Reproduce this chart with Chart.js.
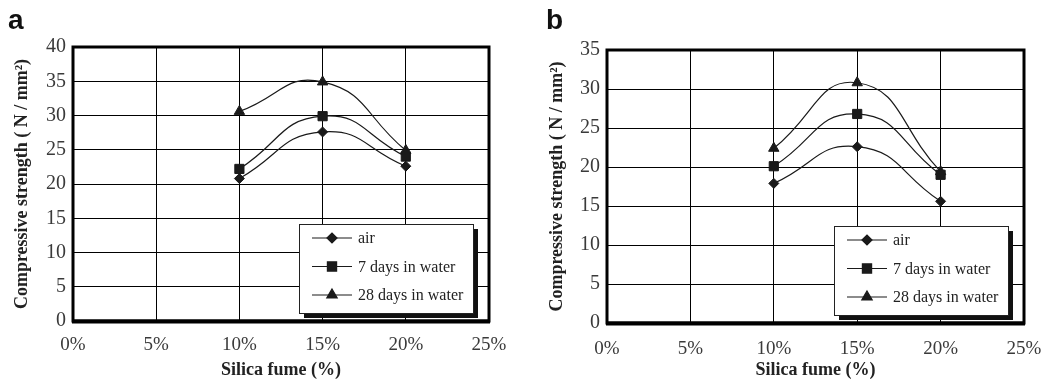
<!DOCTYPE html>
<html>
<head>
<meta charset="utf-8">
<script src="https://cdn.jsdelivr.net/npm/chart.js@4/dist/chart.umd.min.js"></script>
<style>
  html, body { margin: 0; padding: 0; background: #fff; }
  #wrap { position: relative; width: 1043px; height: 381px; overflow: hidden; }
  .panel { position: absolute; top: 0; height: 381px; }
  .tag { position: absolute; top: 4px; font: bold 28px "Liberation Sans", Arial, sans-serif; color: #111; }
</style>
</head>
<body>
<div id="wrap">
  <div class="panel" style="left:0;width:520px;"><canvas id="chartA" width="520" height="381"></canvas></div>
  <div class="panel" style="left:520px;width:523px;"><canvas id="chartB" width="523" height="381"></canvas></div>
  <div class="tag" style="left:8px;">a</div>
  <div class="tag" style="left:546px;">b</div>
</div>
<script>
// Silica fume content (%) at which strength was measured
const silicaFume = [10, 15, 20];
const seriesLabels = ['air', '7 days in water', '28 days in water'];
const pointStyles = ['rectRot', 'rect', 'triangle'];
const pointRadii = [5, 6.5, 6];

// Panel a
const airA = [20.8, 27.6, 22.6];
const water7A = [22.2, 29.9, 24.0];
const water28A = [30.6, 34.9, 24.9];

// Panel b
const airB = [17.9, 22.6, 15.6];
const water7B = [20.1, 26.8, 19.0];
const water28B = [22.4, 30.8, 19.4];

const ink = '#1a1a1a';
const serif = '"Liberation Serif", "Times New Roman", serif';

// Thick black frame around the plot area
const framePlugin = {
    id: 'frame',
    beforeDatasetsDraw(chart) {
        const { ctx, chartArea: a } = chart;
        ctx.save();
        ctx.strokeStyle = '#000';
        ctx.lineWidth = 3;
        ctx.strokeRect(a.left, a.top, a.right - a.left, a.bottom - a.top);
        ctx.lineWidth = 4;
        ctx.beginPath();
        ctx.moveTo(a.left - 1, a.bottom + 0.5);
        ctx.lineTo(a.right + 1, a.bottom + 0.5);
        ctx.stroke();
        ctx.restore();
    }
};

// Boxed legend with drop shadow in the lower right of the plot
const legendPlugin = {
    id: 'boxLegend',
    afterDatasetsDraw(chart) {
        const { ctx, chartArea: a } = chart;
        const w = 174, h = 89;
        const x = a.right - 16 - w;
        const y = a.bottom - 8 - h;
        ctx.save();
        ctx.fillStyle = '#111';
        ctx.fillRect(x + 5, y + 5, w, h);
        ctx.fillStyle = '#fff';
        ctx.fillRect(x, y, w, h);
        ctx.strokeStyle = '#222';
        ctx.lineWidth = 1;
        ctx.strokeRect(x + 0.5, y + 0.5, w, h);
        chart.data.datasets.forEach((ds, i) => {
            const ry = y + 14 + i * 28.5;
            ctx.strokeStyle = ink;
            ctx.lineWidth = 1.2;
            ctx.beginPath();
            ctx.moveTo(x + 13, ry);
            ctx.lineTo(x + 53, ry);
            ctx.stroke();
            ctx.fillStyle = ink;
            Chart.helpers.drawPoint(ctx, {
                pointStyle: ds.pointStyle,
                radius: ds.pointRadius,
                borderWidth: 1
            }, x + 33, ry);
            ctx.fillStyle = '#222';
            ctx.font = '16px ' + serif;
            ctx.textBaseline = 'middle';
            ctx.fillText(ds.label, x + 59, ry + 1);
        });
        ctx.restore();
    }
};

function makeChart(id, series, yMax, opts) {
    const datasets = series.map((vals, i) => ({
        label: seriesLabels[i],
        data: silicaFume.map((s, k) => ({ x: s, y: vals[k] })),
        borderColor: ink,
        backgroundColor: ink,
        borderWidth: 1.2,
        pointStyle: pointStyles[i],
        pointRadius: pointRadii[i],
        pointBorderWidth: 1,
        tension: 0.5
    }));

    return new Chart(document.getElementById(id), {
        type: 'line',
        data: { datasets },
        options: {
            responsive: false,
            animation: false,
            layout: { padding: { left: 0, right: opts.padRight, top: opts.padTop, bottom: 0 } },
            plugins: { legend: { display: false }, tooltip: { enabled: false } },
            scales: {
                x: {
                    type: 'linear',
                    min: 0, max: 25,
                    ticks: {
                        stepSize: 5,
                        padding: opts.xTickPad,
                        color: '#3a3a3a',
                        font: { family: serif, size: 19 },
                        callback: v => v + '%'
                    },
                    grid: { color: '#000', lineWidth: 1, drawTicks: false },
                    border: { display: false },
                    title: {
                        display: true,
                        text: 'Silica fume (%)',
                        color: '#222',
                        font: { family: serif, size: 18, weight: 'bold' },
                        padding: { top: 0, bottom: 0 }
                    },
                    afterFit: s => {
                        s.height = opts.xHeight;
                        s.paddingLeft = 0;
                        s.paddingRight = 0;
                    }
                },
                y: {
                    min: 0, max: yMax,
                    ticks: {
                        stepSize: 5,
                        padding: opts.yTickPad,
                        color: '#3a3a3a',
                        font: { family: serif, size: 20 }
                    },
                    grid: { color: '#000', lineWidth: 1, drawTicks: false },
                    border: { display: false },
                    title: {
                        display: true,
                        text: 'Compressive strength ( N / mm²)',
                        color: '#222',
                        font: { family: serif, size: 18, weight: 'bold' },
                        padding: { top: opts.yTitlePad, bottom: 0 }
                    },
                    afterFit: s => { s.width = opts.yWidth; }
                }
            }
        },
        plugins: [framePlugin, legendPlugin]
    });
}

makeChart('chartA', [airA, water7A, water28A], 40,
    { padRight: 31, padTop: 47, xHeight: 60, xTickPad: 13, yWidth: 73, yTickPad: 7, yTitlePad: 12 });
makeChart('chartB', [airB, water7B, water28B], 35,
    { padRight: 19, padTop: 50, xHeight: 58, xTickPad: 15, yWidth: 87, yTickPad: 7, yTitlePad: 27 });
</script>
</body>
</html>
